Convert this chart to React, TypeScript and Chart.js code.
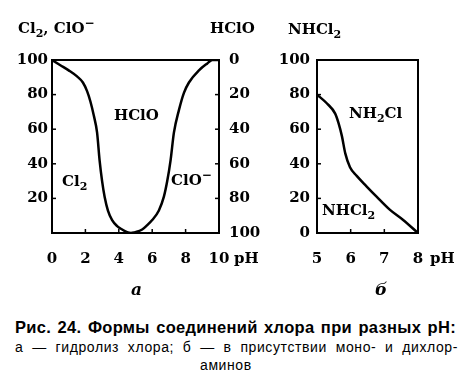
import React, { useEffect, useRef } from "react";
import { Chart, registerables } from "chart.js";

Chart.register(...registerables);

// Panel а — гидролиз хлора
const phCl2 = [0, 0.5, 1, 1.5, 1.85, 2.1, 2.3, 2.5, 2.7, 2.85, 3.0, 3.15, 3.35, 3.6, 3.9, 4.2, 4.5, 4.7];
const cl2 = [100, 97, 94, 90.5, 87, 82, 76, 68, 58, 42, 30, 21, 13, 7.5, 4, 2, 0.5, 0];
const phClO = [4.7, 5.0, 5.4, 5.7, 6.0, 6.4, 6.7, 6.9, 7.1, 7.3, 7.6, 7.9, 8.2, 8.8, 9.3, 9.6, 10];
const clo = [0, 0.5, 2, 4.5, 7.5, 13, 21, 30, 42, 58, 71, 81, 87, 94, 98, 100, 100];
const xTicksA = [0, 2, 4, 6, 8, 10];
const leftTicksA = [20, 40, 60, 80, 100];
const rightTicksA = [0, 20, 40, 60, 80, 100];

// Panel б — в присутствии моно- и дихлораминов
const phB = [5, 5.29, 5.54, 5.64, 5.74, 5.84, 5.98, 6.18, 6.47, 6.77, 7.16, 7.55, 8];
const nhcl2 = [80, 75, 69, 63.5, 56, 46, 38, 33, 27, 21, 13.5, 7.7, 0];
const xTicksB = [5, 6, 7, 8];
const yTicksB = [0, 20, 40, 60, 80, 100];

const SERIF = "'DejaVu Serif', serif";
const tickFont = { family: SERIF, size: 15, weight: "bold" as const };

const frame = {
  id: "frame",
  afterDraw(chart: any) {
    const { ctx, chartArea: a } = chart;
    ctx.save();
    ctx.strokeStyle = "#000";
    ctx.lineWidth = 2;
    ctx.strokeRect(a.left, a.top, a.right - a.left, a.bottom - a.top);
    ctx.lineWidth = 1.5;
    const len = 4;
    Object.values(chart.scales).forEach((s: any) => {
      s.ticks.forEach((t: any) => {
        const p = s.getPixelForValue(t.value);
        ctx.beginPath();
        if (s.axis === "x") {
          ctx.moveTo(p, a.bottom);
          ctx.lineTo(p, a.bottom - len);
        } else if (s.position === "left") {
          ctx.moveTo(a.left, p);
          ctx.lineTo(a.left + len, p);
        } else {
          ctx.moveTo(a.right, p);
          ctx.lineTo(a.right - len, p);
        }
        ctx.stroke();
      });
    });
    ctx.restore();
  },
};

function fixedTicks(values: number[]) {
  return (scale: any) => {
    scale.ticks = values.map((v) => ({ value: v }));
  };
}

function line(xs: number[], ys: number[]) {
  return {
    data: xs.map((x, i) => ({ x, y: ys[i] })),
    borderColor: "#000",
    borderWidth: 2.5,
    pointRadius: 0,
    tension: 0.4,
    cubicInterpolationMode: "monotone" as const,
    fill: false,
  };
}

function PanelA() {
  const ref = useRef<HTMLCanvasElement>(null);
  useEffect(() => {
    const chart = new Chart(ref.current!, {
      type: "line",
      data: { datasets: [line(phCl2, cl2), line(phClO, clo)] },
      options: {
        animation: false,
        responsive: false,
        events: [],
        layout: { padding: { top: 60, left: 0, right: 0, bottom: 0 } },
        plugins: { legend: { display: false }, tooltip: { enabled: false } },
        scales: {
          x: {
            type: "linear",
            min: 0,
            max: 10,
            afterBuildTicks: fixedTicks(xTicksA),
            afterFit: (s: any) => { s.height = 280 - 233; },
            grid: { display: false, drawTicks: false },
            border: { display: false },
            ticks: { font: tickFont, color: "#000", padding: 17, maxRotation: 0 },
          },
          y: {
            type: "linear",
            position: "left",
            min: 0,
            max: 100,
            afterBuildTicks: fixedTicks(leftTicksA),
            afterFit: (s: any) => { s.width = 52; },
            grid: { display: false, drawTicks: false },
            border: { display: false },
            ticks: { font: tickFont, color: "#000", padding: 4 },
          },
          y2: {
            type: "linear",
            position: "right",
            reverse: true,
            min: 0,
            max: 100,
            afterBuildTicks: fixedTicks(rightTicksA),
            afterFit: (s: any) => { s.width = 262 - 219; },
            grid: { display: false, drawTicks: false },
            border: { display: false },
            ticks: { font: tickFont, color: "#000", padding: 10 },
          },
        },
      },
      plugins: [frame],
    });
    return () => chart.destroy();
  }, []);
  return <canvas ref={ref} width={262} height={280} style={{ position: "absolute", left: 0, top: 0 }} />;
}

function PanelB() {
  const ref = useRef<HTMLCanvasElement>(null);
  useEffect(() => {
    const chart = new Chart(ref.current!, {
      type: "line",
      data: { datasets: [line(phB, nhcl2)] },
      options: {
        animation: false,
        responsive: false,
        events: [],
        layout: { padding: { top: 60, left: 0, right: 202 - (418 - 262), bottom: 0 } },
        plugins: { legend: { display: false }, tooltip: { enabled: false } },
        scales: {
          x: {
            type: "linear",
            min: 5,
            max: 8,
            afterBuildTicks: fixedTicks(xTicksB),
            afterFit: (s: any) => { s.height = 280 - 233; },
            grid: { display: false, drawTicks: false },
            border: { display: false },
            ticks: { font: tickFont, color: "#000", padding: 17, maxRotation: 0 },
          },
          y: {
            type: "linear",
            position: "left",
            min: 0,
            max: 100,
            afterBuildTicks: fixedTicks(yTicksB),
            afterFit: (s: any) => { s.width = 317 - 262; },
            grid: { display: false, drawTicks: false },
            border: { display: false },
            ticks: { font: tickFont, color: "#000", padding: 7 },
          },
        },
      },
      plugins: [frame],
    });
    return () => chart.destroy();
  }, []);
  return <canvas ref={ref} width={202} height={280} style={{ position: "absolute", left: 262, top: 0 }} />;
}

const lbl: React.CSSProperties = {
  position: "absolute",
  fontFamily: SERIF,
  fontWeight: "bold",
  fontSize: 15,
  lineHeight: "17px",
  whiteSpace: "nowrap",
  color: "#000",
};
const sub: React.CSSProperties = { fontSize: 11, verticalAlign: -4, lineHeight: 0 };
const sup: React.CSSProperties = { fontSize: 12, verticalAlign: 6, lineHeight: 0 };

function T({ x, y, children, style }: { x: number; y: number; children: React.ReactNode; style?: React.CSSProperties }) {
  return <div style={{ ...lbl, left: x, top: y, ...style }}>{children}</div>;
}

const capLine: React.CSSProperties = {
  position: "absolute",
  fontFamily: "'Liberation Sans', Arial, sans-serif",
  color: "#000",
  whiteSpace: "nowrap",
  textAlign: "justify",
  textAlignLast: "justify" as any,
};

export default function App() {
  return (
    <div style={{ position: "absolute", left: 0, top: 0, width: 464, height: 386, background: "#fff", overflow: "hidden" }}>
      <PanelA />
      <PanelB />
      <T x={18} y={20}>Cl<span style={sub}>2</span>, ClO<span style={sup}>−</span></T>
      <T x={210} y={20}>HClO</T>
      <T x={288} y={21}>NHCl<span style={sub}>2</span></T>
      <T x={114} y={107}>HClO</T>
      <T x={62} y={173}>Cl<span style={sub}>2</span></T>
      <T x={171} y={172}>ClO<span style={sup}>−</span></T>
      <T x={349} y={105}>NH<span style={sub}>2</span>Cl</T>
      <T x={322} y={202}>NHCl<span style={sub}>2</span></T>
      <T x={234} y={250}>pH</T>
      <T x={430} y={250}>pH</T>
      <T x={131} y={281} style={{ fontStyle: "italic", fontSize: 17 }}>а</T>
      <T x={375} y={281} style={{ fontStyle: "italic", fontSize: 17 }}>б</T>
      <div style={{ ...capLine, left: 15, top: 318, width: 441, fontSize: 16.5, fontWeight: "bold", lineHeight: "19px", letterSpacing: 0.3 }}>
        Рис. 24. Формы соединений хлора при разных pH:
      </div>
      <div style={{ ...capLine, left: 15, top: 339, width: 443, fontSize: 14, lineHeight: "16px", letterSpacing: 0.6 }}>
        а — гидролиз хлора; б — в присутствии моно- и дихлор-
      </div>
      <div style={{ ...capLine, left: 200, top: 357, fontSize: 14, lineHeight: "16px", letterSpacing: 0.6, textAlign: "left", textAlignLast: "left" as any }}>
        аминов
      </div>
    </div>
  );
}
